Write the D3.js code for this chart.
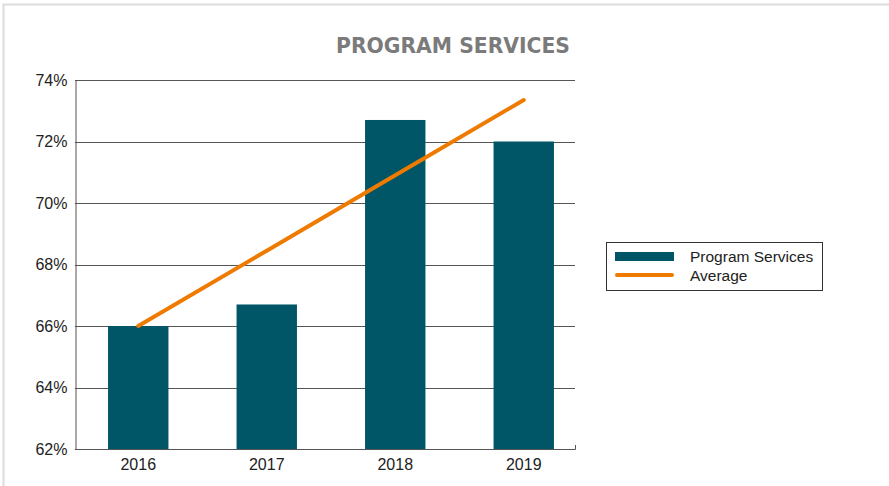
<!DOCTYPE html>
<html>
<head>
<meta charset="utf-8">
<script src="https://cdn.jsdelivr.net/npm/d3@7"></script>
<style>
  body { margin: 0; background: #fff; }
  text { font-family: "Liberation Sans", Arial, sans-serif; fill: #222; }
</style>
</head>
<body>
<div id="chart"></div>
<script>
var years = ["2016", "2017", "2018", "2019"];
var programServices = [66.0, 66.7, 72.7, 72.0];
var average = [66.0, 68.45, 70.9, 73.35];
var yTicks = [62, 64, 66, 68, 70, 72, 74];

function init() {
    var w = 889;
    var h = 486;

    var svg = d3.select("#chart")
                .append("svg")
                .attr("width", w)
                .attr("height", h);

    // card border
    svg.append("path")
       .attr("d", "M3.5,486V4.5H889")
       .attr("fill", "none")
       .attr("stroke", "#dcdcdc")
       .attr("stroke-width", 2);

    var left = 75, right = 575, top = 80, bottom = 449;

    var x = d3.scaleBand()
              .domain(years)
              .range([74, 588])
              .paddingInner(0.53)
              .paddingOuter(0.265);

    var y = d3.scaleLinear()
              .domain([62, 74])
              .range([bottom, top]);

    // gridlines
    svg.selectAll("line.grid")
       .data(yTicks.slice(1))
       .enter()
       .append("line")
       .attr("class", "grid")
       .attr("x1", left)
       .attr("x2", right)
       .attr("y1", function(d) { return Math.round(y(d)) + 0.5; })
       .attr("y2", function(d) { return Math.round(y(d)) + 0.5; })
       .attr("stroke", "#555")
       .attr("stroke-width", 1);

    // bars
    svg.selectAll("rect.bar")
       .data(programServices)
       .enter()
       .append("rect")
       .attr("class", "bar")
       .attr("x", function(d, i) { return x(years[i]); })
       .attr("width", x.bandwidth())
       .attr("y", function(d) { return y(d); })
       .attr("height", function(d) { return bottom - y(d); })
       .attr("fill", "#005567");

    // axes
    var yAxis = d3.axisLeft(y)
                  .tickValues(yTicks)
                  .tickSize(0)
                  .tickPadding(8)
                  .tickFormat(function(d) { return d + "%"; });
    var gy = svg.append("g")
                .attr("transform", "translate(" + (left + 0.5) + ",0)")
                .call(yAxis);
    gy.select(".domain").attr("stroke", "#555");
    gy.selectAll("text").style("font-size", "16px").attr("fill", "#222");

    var xAxis = d3.axisBottom(x).tickSize(0).tickPadding(9);
    var gx = svg.append("g")
                .attr("transform", "translate(0," + (bottom + 0.5) + ")")
                .call(xAxis);
    gx.select(".domain").remove();
    gx.selectAll("text").style("font-size", "16px").attr("fill", "#222");

    svg.append("path")
       .attr("d", "M" + left + "," + (bottom + 0.5) + "H" + (right + 0.5) + "V" + (bottom - 4))
       .attr("fill", "none")
       .attr("stroke", "#555");

    // average line
    var line = d3.line()
                 .x(function(d, i) { return x(years[i]) + x.bandwidth() / 2; })
                 .y(function(d) { return y(d); });
    svg.append("path")
       .datum(average)
       .attr("d", line)
       .attr("fill", "none")
       .attr("stroke", "#EE7B00")
       .attr("stroke-width", 4)
       .attr("stroke-linecap", "round");

    // title
    svg.append("text")
       .attr("x", 336)
       .attr("y", 53)
       .attr("textLength", 234)
       .attr("lengthAdjust", "spacingAndGlyphs")
       .style("font-family", "'DejaVu Sans Condensed', 'DejaVu Sans', sans-serif")
       .style("font-weight", "bold")
       .style("font-size", "22px")
       .style("fill", "#7b7b7b")
       .text("PROGRAM SERVICES");

    // legend
    var lg = svg.append("g");
    lg.append("rect")
      .attr("x", 606.5).attr("y", 242.5)
      .attr("width", 216).attr("height", 48)
      .attr("fill", "#fff")
      .attr("stroke", "#333");
    lg.append("rect")
      .attr("x", 615).attr("y", 252)
      .attr("width", 59).attr("height", 9)
      .attr("fill", "#005567");
    lg.append("line")
      .attr("x1", 617).attr("x2", 672)
      .attr("y1", 275).attr("y2", 275)
      .attr("stroke", "#EE7B00")
      .attr("stroke-width", 4)
      .attr("stroke-linecap", "round");
    lg.append("text").attr("x", 690).attr("y", 262)
      .style("font-size", "15.5px").text("Program Services");
    lg.append("text").attr("x", 690).attr("y", 281)
      .style("font-size", "15.5px").text("Average");
}
window.onload = init;
</script>
</body>
</html>
